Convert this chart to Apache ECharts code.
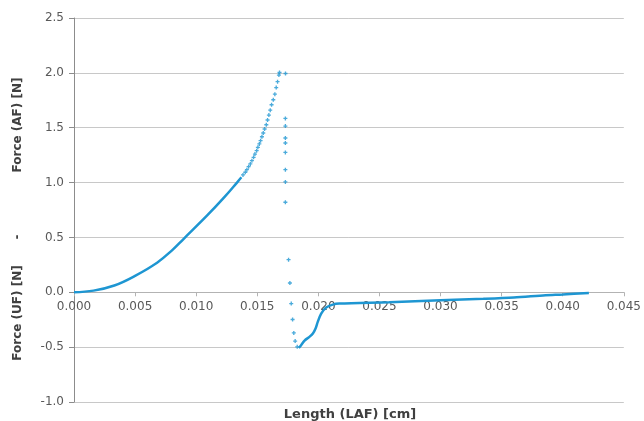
<!DOCTYPE html>
<html><head><meta charset="utf-8">
<script src="https://cdn.jsdelivr.net/npm/echarts@6/dist/echarts.min.js"></script>
<style>html,body{margin:0;padding:0;background:#fff}#c{width:644px;height:421px}</style>
</head><body><div id="c"></div>
<script>
// dense rising part (continuous band of markers)
const riseX = [0, 0.0016, 0.0033, 0.005, 0.0068, 0.008, 0.009, 0.0109, 0.01225, 0.01334, 0.0137];
const riseY = [0, 0.015, 0.062, 0.15, 0.27, 0.38, 0.49, 0.70, 0.86, 1.0, 1.048];
// upper rising part, separate markers
const topX = [0.01383, 0.01402, 0.01415, 0.01429, 0.01443, 0.01456, 0.0147, 0.01481, 0.01495, 0.01505, 0.01517, 0.01527, 0.01538, 0.01549, 0.0156, 0.01574, 0.01584, 0.01595, 0.01606, 0.01617, 0.01631, 0.01644, 0.01655, 0.01666, 0.01677, 0.01682, 0.01731];
const topY = [1.07, 1.094, 1.118, 1.145, 1.17, 1.2, 1.23, 1.26, 1.291, 1.321, 1.352, 1.382, 1.418, 1.452, 1.488, 1.527, 1.57, 1.615, 1.66, 1.709, 1.755, 1.806, 1.866, 1.92, 1.98, 2.003, 1.994];
// drop after failure
const dropX = [0.0173, 0.0173, 0.0173, 0.0173, 0.0173, 0.0173, 0.0173, 0.0173, 0.01756, 0.01767, 0.01778, 0.01789, 0.01799, 0.0181, 0.01827];
const dropY = [1.585, 1.515, 1.406, 1.361, 1.275, 1.118, 1.006, 0.821, 0.297, 0.085, -0.103, -0.248, -0.37, -0.445, -0.497];
// recovery / unloading part (continuous band)
const recX = [0.0184, 0.0186, 0.01887, 0.01927, 0.01955, 0.01977, 0.01995, 0.02023, 0.02064, 0.02118, 0.02172, 0.0258, 0.030, 0.0335, 0.036, 0.0386, 0.040, 0.04214];
const recY = [-0.506, -0.48, -0.44, -0.406, -0.376, -0.33, -0.27, -0.194, -0.139, -0.112, -0.103, -0.09, -0.073, -0.06, -0.048, -0.027, -0.02, -0.006];
const xTicks = {min: 0, max: 0.045, step: 0.005};
const yTicks = {min: -1.0, max: 2.5, step: 0.5};

const zip = (a, b) => a.map((v, i) => [v, b[i]]);
const blue = '#1e96d2';
const plus = 'path://M1,0H2V1H3V2H2V3H1V2H0V1H1Z';
const gridTop = 18, gridBottom = 19, H = 421;
const plotH = H - gridTop - gridBottom;
// distance from the bottom edge of the plot to the y = 0 line
const zeroOffset = plotH * (0 - yTicks.min) / (yTicks.max - yTicks.min);
const chart = echarts.init(document.getElementById('c'));
chart.setOption({
  animation: false,
  grid: {left: 74, right: 19, top: gridTop, bottom: gridBottom},
  xAxis: {
    type: 'value', min: xTicks.min, max: xTicks.max, interval: xTicks.step,
    offset: -zeroOffset,
    axisLine: {onZero: false, lineStyle: {color: '#b3b3b3'}},
    axisTick: {show: true, length: 4, lineStyle: {color: '#b3b3b3'}},
    axisLabel: {formatter: v => v.toFixed(3), color: '#595959', fontFamily: 'DejaVu Sans', fontSize: 12, margin: 9},
    splitLine: {show: false}
  },
  yAxis: {
    type: 'value', min: yTicks.min, max: yTicks.max, interval: yTicks.step,
    axisLine: {show: true, onZero: false, lineStyle: {color: '#8c8c8c'}},
    axisTick: {show: true, length: 5, lineStyle: {color: '#8c8c8c'}},
    axisLabel: {formatter: v => v.toFixed(1), color: '#595959', fontFamily: 'DejaVu Sans', fontSize: 12, margin: 10},
    splitLine: {lineStyle: {color: '#c8c8c8'}}
  },
  graphic: [
    {type: 'text', x: 18, y: 125, rotation: Math.PI / 2, style: {text: 'Force (AF) [N]', font: 'bold 12px "DejaVu Sans"', fill: '#404040', textAlign: 'center', textVerticalAlign: 'middle'}},
    {type: 'text', x: 18, y: 237, rotation: Math.PI / 2, style: {text: '-', font: 'bold 12px "DejaVu Sans"', fill: '#404040', textAlign: 'center', textVerticalAlign: 'middle'}},
    {type: 'text', x: 18, y: 313, rotation: Math.PI / 2, style: {text: 'Force (UF) [N]', font: 'bold 12px "DejaVu Sans"', fill: '#404040', textAlign: 'center', textVerticalAlign: 'middle'}},
    {type: 'text', x: 350, y: 415, style: {text: 'Length (LAF) [cm]', font: 'bold 13px "DejaVu Sans"', fill: '#404040', textAlign: 'center', textVerticalAlign: 'middle'}}
  ],
  series: [
    {type: 'line', data: zip(riseX, riseY), smooth: 0.4, symbol: 'none', lineStyle: {color: blue, width: 2.5}},
    {type: 'line', data: zip(recX, recY), smooth: 0.3, symbol: 'none', lineStyle: {color: blue, width: 2.5}},
    {type: 'scatter', data: zip(topX, topY), symbol: plus, symbolSize: 4, itemStyle: {color: blue}},
    {type: 'scatter', data: zip(dropX, dropY), symbol: plus, symbolSize: 4, itemStyle: {color: blue}}
  ]
});
</script></body></html>
